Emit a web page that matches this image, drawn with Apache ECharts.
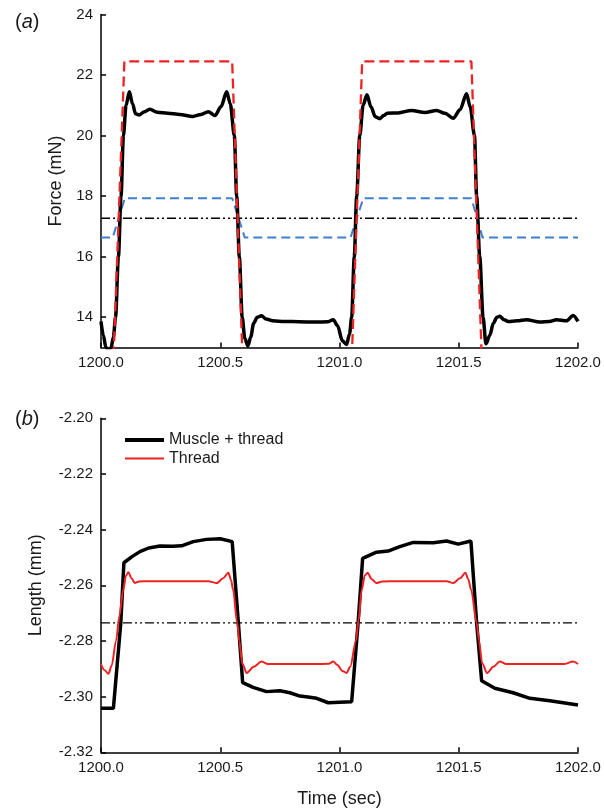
<!DOCTYPE html>
<html>
<head>
<meta charset="utf-8">
<script src="https://cdn.jsdelivr.net/npm/echarts@6/dist/echarts.min.js"></script>
<style>
html,body{margin:0;padding:0;background:#fff;}
#chart{width:604px;height:810px;}
</style>
</head>
<body>
<div id="chart"></div>
<script>
// ---------- Data ----------
var xTicks = [1200.0, 1200.5, 1201.0, 1201.5, 1202.0];
var forceTicks = [14, 16, 18, 20, 22, 24];
var lengthTicks = [-2.32, -2.30, -2.28, -2.26, -2.24, -2.22, -2.20];

// Panel (a): force, black measured trace [time, mN]
var forceMeasured = [
  [1200.000, 13.86], [1200.010, 13.40], [1200.020, 13.02], [1200.030, 12.90],
  [1200.042, 12.98], [1200.052, 13.35], [1200.061, 14.00], [1200.073, 16.00],
  [1200.084, 18.00], [1200.094, 20.00], [1200.105, 21.00], [1200.119, 21.45],
  [1200.132, 21.05], [1200.145, 20.72], [1200.160, 20.68], [1200.180, 20.78],
  [1200.205, 20.87], [1200.235, 20.77], [1200.280, 20.74], [1200.330, 20.70],
  [1200.385, 20.63], [1200.420, 20.70], [1200.450, 20.79], [1200.478, 20.66],
  [1200.503, 20.95], [1200.527, 21.45], [1200.542, 21.05], [1200.559, 20.00],
  [1200.569, 18.00], [1200.580, 16.00], [1200.592, 14.00], [1200.603, 13.30],
  [1200.616, 13.05], [1200.628, 13.35], [1200.640, 13.80], [1200.655, 14.00],
  [1200.673, 14.05], [1200.692, 13.94], [1200.720, 13.88], [1200.770, 13.86],
  [1200.830, 13.85], [1200.900, 13.84], [1200.950, 13.85], [1200.974, 13.92],
  [1200.992, 13.72], [1201.012, 13.22], [1201.030, 13.10], [1201.042, 13.45],
  [1201.051, 14.00], [1201.062, 16.00], [1201.072, 18.00], [1201.085, 20.00],
  [1201.099, 21.00], [1201.115, 21.35], [1201.132, 20.95], [1201.150, 20.62],
  [1201.169, 20.56], [1201.185, 20.66], [1201.200, 20.74], [1201.246, 20.75],
  [1201.302, 20.83], [1201.358, 20.76], [1201.407, 20.83], [1201.442, 20.74],
  [1201.477, 20.57], [1201.505, 20.85], [1201.533, 21.38], [1201.548, 20.95],
  [1201.566, 20.00], [1201.575, 18.00], [1201.588, 16.00], [1201.602, 14.00],
  [1201.614, 13.12], [1201.630, 13.40], [1201.645, 13.80], [1201.660, 14.00],
  [1201.672, 14.03], [1201.690, 13.92], [1201.707, 13.86], [1201.745, 13.88],
  [1201.784, 13.92], [1201.840, 13.84], [1201.880, 13.86], [1201.910, 13.92],
  [1201.952, 13.88], [1201.980, 14.06], [1202.000, 13.86]
];

// Panel (a): red dashed command (low part lies below the axis range)
var forceRedCommand = [
  [1200.000, 8.0], [1200.031, 8.0], [1200.098, 22.45], [1200.550, 22.45],
  [1200.614, 8.0], [1201.031, 8.0], [1201.095, 22.45], [1201.553, 22.45],
  [1201.617, 8.0], [1202.000, 8.0]
];

// Panel (a): blue dashed
var forceBlue = [
  [1200.000, 16.63], [1200.049, 16.63], [1200.100, 17.93], [1200.550, 17.93],
  [1200.603, 16.63], [1201.046, 16.63], [1201.100, 17.93], [1201.553, 17.93],
  [1201.600, 16.63], [1202.000, 16.63]
];

// Panel (a): mean level (dash-dot-dot)
var forceMean = [[1200.0, 17.27], [1202.0, 17.27]];

// Panel (b): Muscle + thread [time, mm]
var lengthMuscleThread = [
  [1200.000, -2.3042], [1200.052, -2.3042], [1200.083, -2.2735], [1200.096, -2.2519],
  [1200.130, -2.2497], [1200.163, -2.2479], [1200.200, -2.2466], [1200.247, -2.2459],
  [1200.300, -2.2460], [1200.338, -2.2458], [1200.387, -2.2443], [1200.443, -2.2435],
  [1200.500, -2.2433], [1200.550, -2.2443], [1200.576, -2.2735], [1200.594, -2.2950],
  [1200.638, -2.2967], [1200.694, -2.2982], [1200.750, -2.2979], [1200.792, -2.2986],
  [1200.834, -2.2998], [1200.876, -2.3002], [1200.904, -2.3006], [1200.953, -2.3022],
  [1201.000, -2.3020], [1201.051, -2.3018], [1201.078, -2.2735], [1201.097, -2.2503],
  [1201.155, -2.2481], [1201.204, -2.2477], [1201.250, -2.2462], [1201.309, -2.2446],
  [1201.393, -2.2447], [1201.449, -2.2441], [1201.498, -2.2452], [1201.551, -2.2441],
  [1201.575, -2.2735], [1201.596, -2.2943], [1201.651, -2.2970], [1201.728, -2.2986],
  [1201.798, -2.3006], [1201.882, -2.3015], [1202.000, -2.3030]
];

// Panel (b): Thread
var lengthThread = [
  [1200.000, -2.2883], [1200.015, -2.2905], [1200.031, -2.2918], [1200.045, -2.2888],
  [1200.063, -2.2800], [1200.077, -2.2710], [1200.093, -2.2617], [1200.105, -2.2565],
  [1200.115, -2.2553], [1200.128, -2.2575], [1200.142, -2.2592], [1200.160, -2.2586],
  [1200.200, -2.2585], [1200.300, -2.2585], [1200.400, -2.2585], [1200.450, -2.2585],
  [1200.485, -2.2592], [1200.512, -2.2575], [1200.534, -2.2555], [1200.545, -2.2580],
  [1200.554, -2.2617], [1200.571, -2.2735], [1200.580, -2.2800], [1200.592, -2.2880],
  [1200.611, -2.2915], [1200.640, -2.2893], [1200.673, -2.2874], [1200.700, -2.2883],
  [1200.800, -2.2883], [1200.900, -2.2883], [1200.955, -2.2882], [1200.974, -2.2874],
  [1200.990, -2.2885], [1201.012, -2.2908], [1201.030, -2.2915], [1201.045, -2.2893],
  [1201.069, -2.2800], [1201.080, -2.2725], [1201.093, -2.2617], [1201.106, -2.2565],
  [1201.118, -2.2555], [1201.135, -2.2578], [1201.155, -2.2592], [1201.180, -2.2586],
  [1201.250, -2.2585], [1201.350, -2.2585], [1201.449, -2.2585], [1201.477, -2.2592],
  [1201.505, -2.2575], [1201.528, -2.2555], [1201.540, -2.2578], [1201.552, -2.2617],
  [1201.575, -2.2735], [1201.585, -2.2800], [1201.598, -2.2880], [1201.619, -2.2915],
  [1201.645, -2.2893], [1201.672, -2.2874], [1201.700, -2.2883], [1201.800, -2.2883],
  [1201.940, -2.2883], [1201.980, -2.2874], [1202.000, -2.2883]
];

// Panel (b): mean level
var lengthMean = [[1200.0, -2.2735], [1202.0, -2.2735]];

// ---------- Chart ----------
var FONT = "'Liberation Sans', Arial, sans-serif";
var chart = echarts.init(document.getElementById('chart'), null, {renderer: 'canvas'});

function xAxisCfg(gridIndex, name) {
  return {
    type: 'value', gridIndex: gridIndex, min: 1200, max: 1202, interval: 0.5,
    name: name || '', nameLocation: 'middle', nameGap: 38,
    nameTextStyle: {fontSize: 18, color: '#1a1a1a', fontFamily: FONT},
    axisLine: {show: true, onZero: false, lineStyle: {color: '#000', width: 1.5}},
    axisTick: {show: true, inside: true, length: 5, lineStyle: {color: '#000', width: 1.5}},
    axisLabel: {fontSize: 15, color: '#1a1a1a', fontFamily: FONT, margin: 8,
      customValues: xTicks,
      formatter: function (v) { return Number(v).toFixed(1); }},
    splitLine: {show: false}
  };
}

var dashDotDot = [9, 3, 2, 3, 2, 3];
var titleRich = {
  p: {fontSize: 20, fontFamily: FONT, color: '#1a1a1a', fontWeight: 'normal'},
  i: {fontSize: 20, fontFamily: FONT, fontStyle: 'italic', color: '#1a1a1a', fontWeight: 'normal'}
};

var option = {
  animation: false,
  backgroundColor: '#fff',
  title: [
    {text: '{p|(}{i|a}{p|)}', left: 10, top: 7, textStyle: {fontWeight: 'normal', rich: titleRich}},
    {text: '{p|(}{i|b}{p|)}', left: 10, top: 404, textStyle: {fontWeight: 'normal', rich: titleRich}}
  ],
  legend: {
    data: [
      {name: 'Muscle + thread', lineStyle: {width: 4, color: '#000'}},
      {name: 'Thread', lineStyle: {width: 2, color: '#ee2222'}}
    ],
    orient: 'vertical', left: 123, top: 432, padding: 0,
    itemWidth: 39, itemHeight: 14, itemGap: 2.6,
    itemStyle: {opacity: 0},
    textStyle: {fontSize: 16, color: '#1a1a1a', fontFamily: FONT}
  },
  grid: [
    {left: 101, right: 26, top: 14.5, height: 333, containLabel: false},
    {left: 101, right: 26, top: 418.3, height: 334, containLabel: false}
  ],
  xAxis: [xAxisCfg(0), xAxisCfg(1, 'Time (sec)')],
  yAxis: [
    {type: 'value', gridIndex: 0, min: 13, max: 24,
      name: 'Force (mN)', nameLocation: 'middle', nameGap: 36,
      nameTextStyle: {fontSize: 18, color: '#1a1a1a', fontFamily: FONT},
      axisLine: {show: true, onZero: false, lineStyle: {color: '#000', width: 1.5}},
      axisTick: {show: true, inside: true, length: 5, customValues: forceTicks,
                 lineStyle: {color: '#000', width: 1.5}},
      axisLabel: {fontSize: 15, color: '#1a1a1a', fontFamily: FONT, margin: 8, customValues: forceTicks},
      splitLine: {show: false}},
    {type: 'value', gridIndex: 1, min: -2.32, max: -2.20, interval: 0.02,
      name: 'Length (mm)', nameLocation: 'middle', nameGap: 56,
      nameTextStyle: {fontSize: 18, color: '#1a1a1a', fontFamily: FONT},
      axisLine: {show: true, onZero: false, lineStyle: {color: '#000', width: 1.5}},
      axisTick: {show: true, inside: true, length: 5, customValues: lengthTicks,
                 lineStyle: {color: '#000', width: 1.5}},
      axisLabel: {fontSize: 15, color: '#1a1a1a', fontFamily: FONT, margin: 8, customValues: lengthTicks,
        formatter: function (v) { return Number(v).toFixed(2); }},
      splitLine: {show: false}}
  ],
  series: [
    {type: 'line', xAxisIndex: 0, yAxisIndex: 0, data: forceMean, symbol: 'none', silent: true,
      lineStyle: {color: '#000', width: 1.3, type: dashDotDot}, z: 2},
    {type: 'line', xAxisIndex: 0, yAxisIndex: 0, data: forceBlue, symbol: 'none', silent: true,
      lineStyle: {color: '#3f7fcf', width: 2, type: [9, 5]}, z: 3},
    {type: 'line', xAxisIndex: 0, yAxisIndex: 0, data: forceMeasured, symbol: 'none', silent: true,
      smooth: 0.3, smoothMonotone: 'x', clip: true,
      lineStyle: {color: '#000', width: 3.5}, z: 4},
    {type: 'line', xAxisIndex: 0, yAxisIndex: 0, data: forceRedCommand, symbol: 'none', silent: true,
      clip: true, lineStyle: {color: '#ee2222', width: 2.3, type: [10, 5]}, z: 5},

    {type: 'line', xAxisIndex: 1, yAxisIndex: 1, data: lengthMean, symbol: 'none', silent: true,
      lineStyle: {color: '#000', width: 1.3, type: dashDotDot}, z: 2},
    {name: 'Muscle + thread', type: 'line', xAxisIndex: 1, yAxisIndex: 1, data: lengthMuscleThread,
      symbol: 'none', silent: true, itemStyle: {color: '#000'},
      lineStyle: {color: '#000', width: 3.5}, z: 3},
    {name: 'Thread', type: 'line', xAxisIndex: 1, yAxisIndex: 1, data: lengthThread,
      symbol: 'none', silent: true, smooth: 0.3, smoothMonotone: 'x', itemStyle: {color: '#ee2222'},
      lineStyle: {color: '#ee2222', width: 2}, z: 4}
  ]
};
chart.setOption(option);
</script>
</body>
</html>
